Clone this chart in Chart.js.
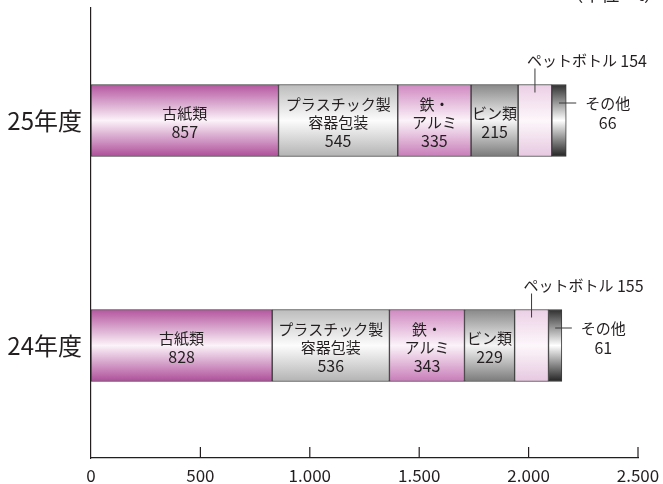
<!DOCTYPE html>
<html><head><meta charset="utf-8">
<script src="https://cdn.jsdelivr.net/npm/chart.js@4.4.0/dist/chart.umd.min.js"></script>
<style>html,body{margin:0;padding:0;background:#fff;} #wrap{width:663px;height:484px;position:relative;}</style>
</head><body><div id="wrap"><canvas id="c" width="663" height="484"></canvas></div>
<script>
const categories = ['25年度', '24年度'];
const seriesNames = ['古紙類', 'プラスチック製容器包装', '鉄・アルミ', 'ビン類', 'ペットボトル', 'その他'];
const paper = [857, 828];
const plastic = [545, 536];
const metal = [335, 343];
const glass = [215, 229];
const pet = [154, 155];
const other = [66, 61];
const xTickValues = [0, 500, 1000, 1500, 2000, 2500];
const xTickLabels = ['0', '500', '1.000', '1.500', '2.000', '2.500'];
const labelLines = [['古紙類'], ['プラスチック製', '容器包装'], ['鉄・', 'アルミ'], ['ビン類'], ['ペットボトル'], ['その他']];
const unitText = '（単位：t）';

const FONT = "'Noto Sans CJK JP', 'Noto Sans', sans-serif";
const INK = '#231f20';
const BAR_T = 72;

const gradStops = [
  ['#b3559f', '#fbf3f9', '#ad4e99'],
  ['#bcbcbc', '#fcfcfc', '#b3b3b3'],
  ['#cf88c1', '#fbf3f9', '#c77cb8'],
  ['#888888', '#f5f5f5', '#7a7a7a'],
  ['#ebcfe5', '#fdf7fb', '#e6c8e0'],
  ['#2e2e2e', '#ffffff', '#222222']
];

function gradFor(i) {
  return function (ctx) {
    const s = gradStops[i];
    const chart = ctx.chart;
    if (ctx.type !== 'data' || !chart.chartArea || !chart.scales.y) return s[1];
    const cy = chart.scales.y.getPixelForValue(ctx.dataIndex);
    const g = chart.ctx.createLinearGradient(0, cy - BAR_T / 2, 0, cy + BAR_T / 2);
    g.addColorStop(0, s[0]);
    g.addColorStop(0.5, s[1]);
    g.addColorStop(1, s[2]);
    return g;
  };
}

const seriesData = [paper, plastic, metal, glass, pet, other];
const datasets = seriesData.map((d, i) => ({
  label: seriesNames[i],
  data: d,
  backgroundColor: gradFor(i),
  borderColor: '#3a3a3a',
  borderWidth: 1,
  borderSkipped: false,
  barThickness: BAR_T
}));

const labelPlugin = {
  id: 'labelPlugin',
  afterDraw(chart) {
    const c = chart.ctx;
    const xs = chart.scales.x;
    const ca = chart.chartArea;
    c.save();
    c.strokeStyle = INK;
    c.lineWidth = 1.2;
    xTickValues.forEach(v => {
      if (v === 0) return;
      const px = xs.getPixelForValue(v);
      c.beginPath();
      c.moveTo(px, ca.bottom);
      c.lineTo(px, ca.bottom - 11);
      c.stroke();
    });
    c.fillStyle = INK;
    c.textAlign = 'center';
    c.textBaseline = 'middle';
    for (let i = 0; i < datasets.length; i++) {
      const meta = chart.getDatasetMeta(i);
      meta.data.forEach((el, j) => {
        const p = el.getProps(['x', 'y', 'base'], true);
        const left = Math.min(p.x, p.base), right = Math.max(p.x, p.base);
        const cx = (left + right) / 2, cy = p.y;
        const top = cy - BAR_T / 2;
        const val = seriesData[i][j];
        if (i <= 3) {
          const lines = labelLines[i].concat([String(val)]);
          const lh = 18;
          const start = cy + 2 - (lines.length - 1) * lh / 2;
          lines.forEach((t, k) => {
            c.font = (/^\d+$/.test(t) ? '16px ' : '15px ') + FONT;
            c.fillText(t, cx, start + k * lh);
          });
        } else if (i === 4) {
          c.strokeStyle = '#3a3a3a';
          c.lineWidth = 1;
          c.beginPath();
          c.moveTo(cx, top - 16);
          c.lineTo(cx, top + 8);
          c.stroke();
          c.textAlign = 'left';
          c.font = '15px ' + FONT;
          const t1 = labelLines[i][0] + ' ';
          c.fillText(t1, cx - 8, top - 24);
          const w1 = c.measureText(t1).width;
          c.font = '16px ' + FONT;
          c.fillText(String(val), cx - 8 + w1, top - 24);
          c.textAlign = 'center';
        } else {
          const ly = cy - 17.5;
          c.strokeStyle = '#3a3a3a';
          c.lineWidth = 1;
          c.beginPath();
          c.moveTo(cx, ly);
          c.lineTo(right + 10, ly);
          c.stroke();
          c.font = '15px ' + FONT;
          const t = labelLines[i][0];
          const w = c.measureText(t).width;
          const tx = right + 19;
          c.textAlign = 'left';
          c.fillText(t, tx, ly);
          c.textAlign = 'center';
          c.font = '16px ' + FONT;
          c.fillText(String(val), tx + w / 2, ly + 20);
        }
      });
    }
    c.font = '18px ' + FONT;
    c.textAlign = 'right';
    c.textBaseline = 'alphabetic';
    c.fillStyle = INK;
    c.fillText(unitText, 662, 1);
    c.restore();
  }
};

new Chart(document.getElementById('c'), {
  type: 'bar',
  data: { labels: categories, datasets },
  options: {
    indexAxis: 'y',
    responsive: false,
    animation: false,
    devicePixelRatio: 1,
    layout: { padding: { top: 8, right: 25, left: 0, bottom: 0 } },
    plugins: { legend: { display: false }, tooltip: { enabled: false } },
    scales: {
      x: {
        stacked: true, min: 0, max: 2500, position: 'bottom',
        afterBuildTicks: s => { s.ticks = xTickValues.map(v => ({ value: v })); },
        afterFit: s => { s.height = 26; s.paddingLeft = 0; s.paddingRight = 0; },
        grid: { display: false, drawTicks: false },
        border: { display: true, color: INK, width: 1.2 },
        ticks: {
          autoSkip: false, maxRotation: 0, padding: 7, color: INK,
          font: { family: FONT, size: 17 },
          callback: (v, i) => xTickLabels[i]
        }
      },
      y: {
        stacked: true,
        afterFit: s => { s.width = 91; s.paddingTop = 0; s.paddingBottom = 0; },
        grid: { display: false, drawTicks: false },
        border: { display: true, color: INK, width: 1.2 },
        ticks: { padding: 9, color: INK, font: { family: FONT, size: 24 } }
      }
    }
  },
  plugins: [labelPlugin]
});
</script>
</body></html>
